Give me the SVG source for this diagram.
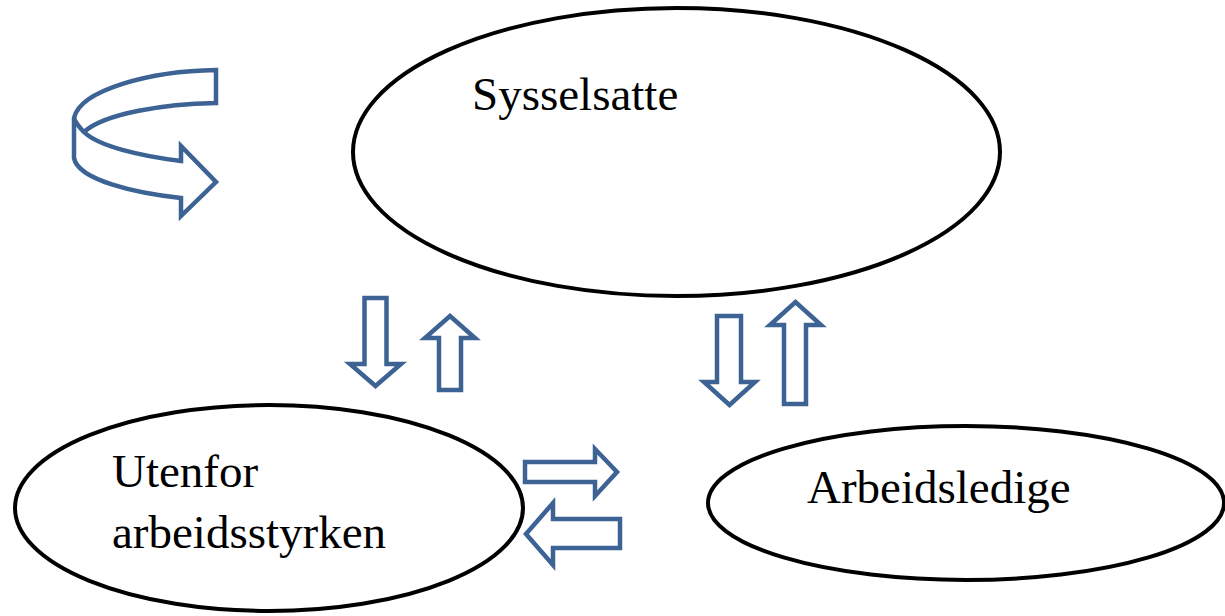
<svg xmlns="http://www.w3.org/2000/svg" width="1225" height="616" viewBox="0 0 1225 616">
<style>
.node{fill:#fff;stroke:#000;stroke-width:4}
.lbl{font-family:"Liberation Serif","Times New Roman",serif;font-size:47px;fill:#000}
.arr{fill:#fff;stroke:#3d6394;stroke-width:4.5;stroke-linejoin:miter}
</style>
<rect width="1225" height="616" fill="#fff"/>
<g id="node-sysselsatte">
<ellipse class="node" cx="676.5" cy="152" rx="323.5" ry="144"/>
<text class="lbl" x="472" y="110">Sysselsatte</text>
</g>
<g id="node-utenfor">
<ellipse class="node" cx="269" cy="508" rx="254" ry="103"/>
<text class="lbl" x="112" y="487">Utenfor</text>
<text class="lbl" x="112" y="548">arbeidsstyrken</text>
</g>
<g id="node-arbeidsledige">
<ellipse class="node" cx="966" cy="503" rx="258" ry="77"/>
<text class="lbl" x="807" y="503">Arbeidsledige</text>
</g>
<g id="connectors">
<g id="self-loop">
<path class="arr" d="M216,70 L216,103 C165,104 105,113 84,132 C98,146 140,156 181,161 L181,146 L216,182 L181,216 L181,198 C135,193 78,180 74,158 L74,118 C80,90 150,71 216,70 Z"/>
<path class="arr" fill="none" d="M74,118 C76,124 80,128 84,132"/>
</g>
<path id="arr-s-u" class="arr" d="M364.5,298 L386.5,298 L386.5,364 L401,364 L375.5,386 L350,364 L364.5,364 Z"/>
<path id="arr-u-s" class="arr" d="M439,390 L461,390 L461,338 L475,338 L450,316 L425,338 L439,338 Z"/>
<path id="arr-s-a" class="arr" d="M717,316 L741,316 L741,382 L755,382 L729.5,405 L704,382 L717,382 Z"/>
<path id="arr-a-s" class="arr" d="M784,404 L806,404 L806,325 L821,325 L795.5,302 L770,325 L784,325 Z"/>
<path id="arr-u-a" class="arr" d="M525,462 L595,462 L595,449 L617,472 L595,496 L595,482 L525,482 Z"/>
<path id="arr-a-u" class="arr" d="M620,519 L553,519 L553,503 L526,534 L553,565 L553,548 L620,548 Z"/>
</g>
</svg>
